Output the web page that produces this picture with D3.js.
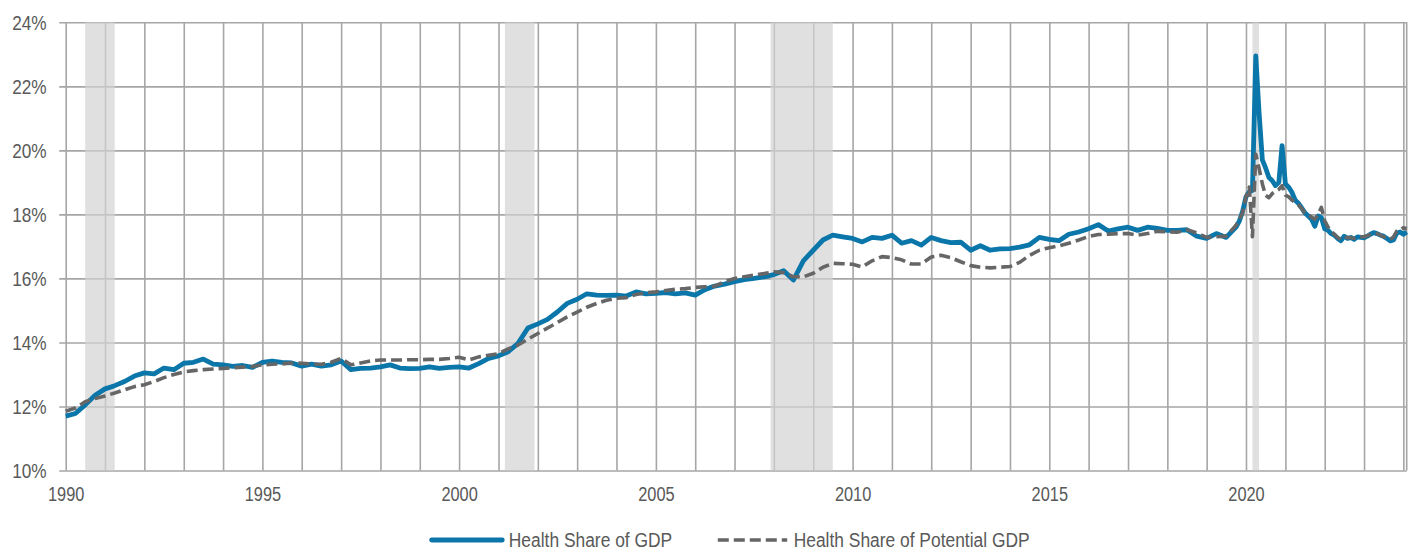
<!DOCTYPE html>
<html>
<head>
<meta charset="utf-8">
<script src="https://cdn.jsdelivr.net/npm/d3@7"></script>
<style>
  body { margin: 0; background: #fff; }
  svg { display: block; font-family: "Liberation Sans", Arial, sans-serif; }
</style>
</head>
<body>
<svg id="chart" width="1411" height="552"></svg>
<script>
// quarterly to Oct 2019, monthly after that
var months = [
  "1990-01","1990-04","1990-07","1990-10", "1991-01","1991-04","1991-07","1991-10",
  "1992-01","1992-04","1992-07","1992-10", "1993-01","1993-04","1993-07","1993-10",
  "1994-01","1994-04","1994-07","1994-10", "1995-01","1995-04","1995-07","1995-10",
  "1996-01","1996-04","1996-07","1996-10", "1997-01","1997-04","1997-07","1997-10",
  "1998-01","1998-04","1998-07","1998-10", "1999-01","1999-04","1999-07","1999-10",
  "2000-01","2000-04","2000-07","2000-10", "2001-01","2001-04","2001-07","2001-10",
  "2002-01","2002-04","2002-07","2002-10", "2003-01","2003-04","2003-07","2003-10",
  "2004-01","2004-04","2004-07","2004-10", "2005-01","2005-04","2005-07","2005-10",
  "2006-01","2006-04","2006-07","2006-10", "2007-01","2007-04","2007-07","2007-10",
  "2008-01","2008-04","2008-07","2008-10", "2009-01","2009-04","2009-07","2009-10",
  "2010-01","2010-04","2010-07","2010-10", "2011-01","2011-04","2011-07","2011-10",
  "2012-01","2012-04","2012-07","2012-10", "2013-01","2013-04","2013-07","2013-10",
  "2014-01","2014-04","2014-07","2014-10", "2015-01","2015-04","2015-07","2015-10",
  "2016-01","2016-04","2016-07","2016-10", "2017-01","2017-04","2017-07","2017-10",
  "2018-01","2018-04","2018-07","2018-10", "2019-01","2019-04","2019-07","2019-10",
  "2019-11","2019-12",
  "2020-01","2020-02","2020-03","2020-04","2020-05","2020-06","2020-07","2020-08","2020-09","2020-10","2020-11","2020-12",
  "2021-01","2021-02","2021-03","2021-04","2021-05","2021-06","2021-07","2021-08","2021-09","2021-10","2021-11","2021-12",
  "2022-01","2022-02","2022-03","2022-04","2022-05","2022-06","2022-07","2022-08","2022-09","2022-10","2022-11","2022-12",
  "2023-01","2023-02","2023-03","2023-04","2023-05","2023-06","2023-07","2023-08","2023-09","2023-10","2023-11","2023-12",
  "2024-01","2024-02"
];

var gdpShare = [
  11.70, 11.78, 12.05, 12.35,  12.55, 12.65, 12.78, 12.95,
  13.05, 13.02, 13.20, 13.15,  13.35, 13.38, 13.48, 13.32,
  13.30, 13.25, 13.28, 13.22,  13.38, 13.42, 13.38, 13.36,
  13.26, 13.32, 13.26, 13.30,  13.42, 13.15, 13.19, 13.20,
  13.24, 13.30, 13.20, 13.18,  13.19, 13.24, 13.19, 13.22,
  13.24, 13.20, 13.34, 13.50,  13.58, 13.71, 13.97, 14.45,
  14.58, 14.72, 14.95, 15.22,  15.35, 15.52, 15.48, 15.47,
  15.48, 15.45, 15.58, 15.52,  15.53, 15.56, 15.52, 15.55,
  15.48, 15.65, 15.76, 15.82,  15.90, 15.96, 16.00, 16.05,
  16.12, 16.24, 15.95, 16.55,  16.88, 17.20, 17.35, 17.30,
  17.25, 17.14, 17.28, 17.25,  17.35, 17.10, 17.18, 17.04,
  17.28, 17.18, 17.12, 17.13,  16.88, 17.02, 16.88, 16.92,
  16.93, 16.98, 17.05, 17.28,  17.22, 17.18, 17.38, 17.45,
  17.55, 17.68, 17.48, 17.55,  17.60, 17.50, 17.60, 17.56,
  17.50, 17.50, 17.52, 17.32,  17.25, 17.40, 17.28, 17.60,
  17.80, 18.10,
  18.55, 18.70, 18.75, 22.95, 21.20, 19.70, 19.45, 19.15, 19.05, 18.90, 19.00, 20.15,
  18.95, 18.85, 18.70, 18.45, 18.35, 18.20, 18.05, 17.95, 17.85, 17.63, 17.95, 17.90,
  17.55, 17.50, 17.40, 17.35, 17.25, 17.18, 17.32, 17.25, 17.28, 17.22, 17.30, 17.28,
  17.27, 17.32, 17.38, 17.43, 17.40, 17.35, 17.32, 17.25, 17.17, 17.20, 17.42, 17.45,
  17.38, 17.45
];

var potentialShare = [
  11.85, 11.95, 12.15, 12.25,  12.33, 12.42, 12.52, 12.62,
  12.68, 12.78, 12.90, 13.00,  13.08, 13.12, 13.15, 13.17,
  13.19, 13.21, 13.23, 13.25,  13.30, 13.32, 13.33, 13.36,
  13.35, 13.33, 13.32, 13.38,  13.50, 13.30, 13.36, 13.42,
  13.45, 13.45, 13.45, 13.46,  13.46, 13.47, 13.47, 13.50,
  13.54, 13.45, 13.55, 13.60,  13.65, 13.80, 13.92, 14.10,
  14.28, 14.45, 14.62, 14.80,  14.95, 15.10, 15.22, 15.32,
  15.38, 15.40, 15.50, 15.55,  15.58, 15.62, 15.66, 15.68,
  15.72, 15.74, 15.76, 15.90,  16.00, 16.05, 16.10, 16.15,
  16.21, 16.18, 16.05, 16.05,  16.16, 16.35, 16.47, 16.46,
  16.44, 16.36, 16.55, 16.68,  16.65, 16.58, 16.45, 16.45,
  16.67, 16.72, 16.65, 16.52,  16.40, 16.35, 16.33, 16.35,
  16.37, 16.50, 16.72, 16.88,  16.96, 17.02, 17.10, 17.20,
  17.31, 17.37, 17.38, 17.40,  17.40, 17.35, 17.40, 17.47,
  17.46, 17.44, 17.52, 17.42,  17.28, 17.30, 17.32, 17.66,
  17.85, 18.05,
  18.55, 18.85, 17.30, 19.88, 19.45, 18.95, 18.60, 18.52, 18.65, 18.72, 18.78, 18.90,
  18.60, 18.55, 18.45, 18.38, 18.30, 18.18, 18.05, 17.98, 17.92, 17.85, 18.00, 18.22,
  17.80, 17.60, 17.48, 17.38, 17.28, 17.22, 17.30, 17.27, 17.28, 17.25, 17.30, 17.30,
  17.30, 17.33, 17.38, 17.40, 17.40, 17.35, 17.30, 17.28, 17.22, 17.30, 17.48, 17.52,
  17.58, 17.55
];

// recession bands (start, end)
var recessions = [
  ["1990-07", "1991-04"],
  ["2001-03", "2001-12"],
  ["2007-12", "2009-07"],
  ["2020-03", "2020-05"]
];

var yTicks = [10, 12, 14, 16, 18, 20, 22, 24];
var seriesNames = ["Health Share of GDP", "Health Share of Potential GDP"];

var parseMonth = d3.timeParse("%Y-%m");
var gridColor = "#a6a6a6";
var textColor = "#595959";
var blue = "#0a76a9";
var grey = "#666666";

var plotLeft = 65.7, plotRight = 1406.7, plotTop = 22.3, plotBottom = 470.5;

var svg = d3.select("#chart");

var x = d3.scaleTime()
  .domain([parseMonth("1990-01"), parseMonth("2024-02")])
  .range([plotLeft, plotRight]);

var y = d3.scaleLinear()
  .domain([10, 24])
  .range([plotBottom, plotTop]);

var gdpData = months.map(function(m, i) { return { date: parseMonth(m), v: gdpShare[i] }; });
var potData = months.map(function(m, i) { return { date: parseMonth(m), v: potentialShare[i] }; });

/* y grid + labels (text is squeezed like the original) */
var yAxis = svg.append("g")
  .attr("transform", "translate(" + (plotLeft - 6.5) + ",0)")
  .call(d3.axisLeft(y)
    .tickValues(yTicks)
    .tickSize(-(plotRight - plotLeft + 6.5))
    .tickSizeOuter(0)
    .tickFormat(function(d) { return d + "%"; }));
yAxis.select(".domain").remove();
yAxis.selectAll("line").attr("stroke", gridColor).attr("stroke-width", 1.6);
yAxis.selectAll("text")
  .attr("fill", textColor)
  .attr("font-size", 21)
  .attr("x", -12.6 / 0.82)
  .attr("transform", "scale(0.82,1)");

/* x grid, one line per year, label every 5 */
var xAxis = svg.append("g")
  .attr("transform", "translate(0," + plotBottom + ")")
  .call(d3.axisBottom(x)
    .ticks(d3.timeYear.every(1))
    .tickSize(-(plotBottom - plotTop))
    .tickSizeOuter(0)
    .tickPadding(16)
    .tickFormat(function(d) { return d.getFullYear() % 5 == 0 ? d.getFullYear() : ""; }));
xAxis.select(".domain").remove();
xAxis.selectAll("line").attr("stroke", gridColor).attr("stroke-width", 1.6);
xAxis.selectAll("text")
  .attr("fill", textColor)
  .attr("font-size", 21)
  .attr("transform", "scale(0.78,1)");

// right border of plot
svg.append("line")
  .attr("x1", plotRight).attr("x2", plotRight)
  .attr("y1", plotTop).attr("y2", plotBottom)
  .attr("stroke", gridColor).attr("stroke-width", 1.6);

// recession shading
svg.append("g").selectAll("rect")
  .data(recessions)
  .enter()
  .append("rect")
  .attr("x", function(d) { return x(parseMonth(d[0])); })
  .attr("width", function(d) { return x(parseMonth(d[1])) - x(parseMonth(d[0])); })
  .attr("y", plotTop)
  .attr("height", plotBottom - plotTop)
  .attr("fill", "#d3d3d3")
  .attr("opacity", 0.7);

var line = d3.line()
  .x(function(d) { return x(d.date); })
  .y(function(d) { return y(d.v); });

svg.append("path")
  .datum(gdpData)
  .attr("d", line)
  .attr("fill", "none")
  .attr("stroke", blue)
  .attr("stroke-width", 4.8)
  .attr("stroke-linejoin", "round");

svg.append("path")
  .datum(potData)
  .attr("d", line)
  .attr("fill", "none")
  .attr("stroke", grey)
  .attr("stroke-width", 3.6)
  .attr("stroke-dasharray", "11,5")
  .attr("stroke-linejoin", "round");

/* legend */
var legendY = 540;
var legendItems = [
  { name: seriesNames[0], x0: 431.6, x1: 502.3, color: blue, width: 4.8, dash: null },
  { name: seriesNames[1], x0: 717.8, x1: 787.2, color: grey, width: 3.6, dash: "11,5" }
];
var legend = svg.append("g").selectAll("g")
  .data(legendItems)
  .enter()
  .append("g");
legend.append("line")
  .attr("x1", function(d) { return d.x0; })
  .attr("x2", function(d) { return d.x1; })
  .attr("y1", legendY).attr("y2", legendY)
  .attr("stroke", function(d) { return d.color; })
  .attr("stroke-width", function(d) { return d.width; })
  .attr("stroke-linecap", function(d) { return d.dash ? "butt" : "round"; })
  .attr("stroke-dasharray", function(d) { return d.dash; });
legend.append("text")
  .attr("transform", function(d) { return "translate(" + (d.x1 + 6.5) + "," + legendY + ") scale(0.87,1)"; })
  .attr("dy", "0.35em")
  .attr("font-size", 20)
  .attr("fill", textColor)
  .text(function(d) { return d.name; });
</script>
</body>
</html>
